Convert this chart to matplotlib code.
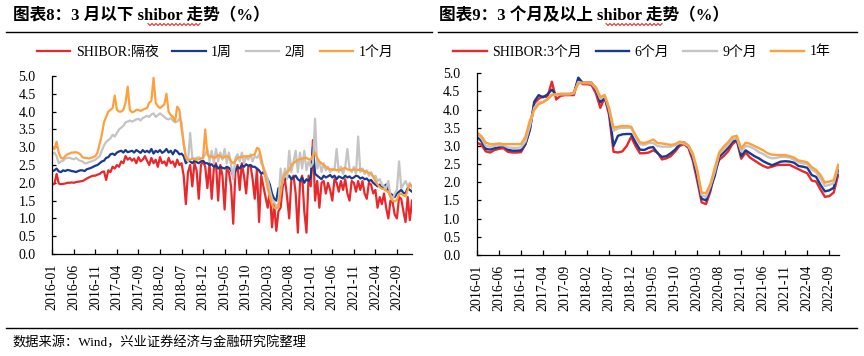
import matplotlib
matplotlib.use('Agg')
import matplotlib.pyplot as plt
import numpy as np
from matplotlib.lines import Line2D

plt.rcParams['font.family'] = ['Liberation Serif', 'Noto Sans CJK SC']
plt.rcParams['axes.unicode_minus'] = False

# ---------------- data ----------------
tick_labels = ['2016-01', '2016-06', '2016-11', '2017-04', '2017-09', '2018-02',
               '2018-07', '2018-12', '2019-05', '2019-10', '2020-03', '2020-08',
               '2021-01', '2021-06', '2021-11', '2022-04', '2022-09']

# left panel: semi-monthly readings, 2016-01 .. 2022-12
shibor_on = [
    1.95, 1.97, 2.25, 1.98, 1.96, 1.97, 1.98, 2.00, 2.00, 2.01, 2.00, 2.02, 2.03, 2.04, 2.05, 2.08, 2.12, 2.15, 2.18, 2.20, 2.20, 2.23, 2.25, 2.30,
    2.32, 2.08, 2.35, 2.30, 2.45, 2.40, 2.50, 2.45, 2.60, 2.55, 2.75, 2.65, 2.70, 2.62, 2.68, 2.55, 2.72, 2.60, 2.65, 2.75, 2.62, 2.50, 2.70, 2.55,
    2.65, 2.45, 2.72, 2.55, 2.60, 2.48, 2.70, 2.55, 2.60, 2.45, 2.65, 2.50, 2.55, 2.20, 1.40, 2.30, 2.50, 1.90, 2.55, 2.35, 1.55, 2.50, 2.60, 2.45,
    1.85, 2.55, 1.55, 2.40, 2.55, 1.50, 2.50, 2.20, 1.25, 2.40, 2.30, 1.90, 0.85, 2.30, 2.50, 1.80, 2.55, 2.20, 1.70, 2.45, 2.50, 2.10, 1.55, 2.40,
    0.90, 2.20, 1.90, 1.60, 1.30, 1.80, 0.75, 1.40, 0.65, 1.20, 1.30, 1.90, 2.10, 1.60, 1.00, 2.10, 2.20, 1.70, 0.60, 2.00, 2.20, 1.20, 0.60, 2.20,
    1.90, 3.20, 1.50, 2.05, 1.30, 2.00, 2.05, 1.70, 2.00, 1.80, 1.50, 2.10, 2.00, 1.75, 2.05, 1.80, 2.10, 1.70, 1.50, 2.05, 2.00, 1.75, 2.05, 1.80,
    2.05, 1.70, 1.55, 2.00, 1.95, 1.70, 1.80, 1.30, 1.60, 1.40, 1.70, 1.30, 1.00, 1.50, 1.45, 1.10, 1.00, 1.60, 1.55, 1.20, 0.90, 1.60, 0.95, 1.50,
]
shibor_1w = [
    2.32, 2.35, 2.40, 2.32, 2.30, 2.35, 2.33, 2.36, 2.35, 2.33, 2.32, 2.30, 2.33, 2.35, 2.35, 2.33, 2.38, 2.40, 2.42, 2.45, 2.48, 2.50, 2.55, 2.60,
    2.62, 2.70, 2.72, 2.80, 2.82, 2.78, 2.85, 2.88, 2.90, 2.85, 2.92, 2.86, 2.88, 2.90, 2.85, 2.92, 2.88, 2.84, 2.92, 2.86, 2.90, 2.85, 2.95, 2.82,
    2.90, 2.86, 2.92, 2.84, 2.88, 2.95, 2.85, 2.90, 2.80, 2.92, 2.88, 2.80, 2.82, 2.75, 2.55, 2.62, 2.60, 2.55, 2.62, 2.58, 2.55, 2.60, 2.62, 2.55,
    2.55, 2.50, 2.52, 2.45, 2.50, 2.40, 2.45, 2.42, 2.40, 2.45, 2.42, 2.35, 2.20, 2.35, 2.45, 2.40, 2.50, 2.45, 2.52, 2.48, 2.50, 2.45, 2.45, 2.40,
    2.35, 2.25, 2.30, 2.20, 2.10, 1.95, 1.70, 1.55, 1.50, 1.85, 1.75, 2.05, 2.10, 2.15, 2.20, 2.10, 2.15, 2.20, 2.10, 2.05, 2.15, 2.00, 2.10, 2.05,
    2.15, 3.00, 2.25, 2.20, 2.15, 2.10, 2.20, 2.15, 2.18, 2.22, 2.15, 2.20, 2.10, 2.18, 2.15, 2.12, 2.20, 2.15, 2.18, 2.12, 2.15, 2.20, 2.18, 2.12,
    2.15, 2.10, 2.12, 2.05, 2.08, 2.00, 1.95, 1.90, 1.95, 1.85, 1.90, 1.95, 1.75, 1.70, 1.65, 1.60, 1.70, 1.75, 1.80, 1.72, 1.70, 1.85, 1.80, 1.75,
]
shibor_2w = [
    2.80, 2.85, 2.75, 2.55, 2.60, 2.62, 2.68, 2.70, 2.70, 2.68, 2.66, 2.70, 2.65, 2.62, 2.60, 2.55, 2.55, 2.58, 2.60, 2.62, 2.65, 2.70, 2.75, 2.90,
    3.05, 3.15, 3.20, 3.25, 3.35, 3.30, 3.40, 3.50, 3.55, 3.60, 3.70, 3.72, 3.75, 3.72, 3.75, 3.78, 3.80, 3.75, 3.82, 3.85, 3.88, 3.85, 3.92, 3.95,
    3.85, 3.90, 3.95, 3.90, 3.85, 3.80, 3.78, 3.82, 3.75, 3.70, 3.72, 3.80, 3.70, 3.10, 2.75, 2.60, 3.40, 2.70, 2.68, 2.70, 2.72, 2.68, 2.70, 2.80,
    2.95, 2.60, 2.90, 2.55, 2.95, 2.60, 2.85, 2.65, 2.95, 2.55, 2.85, 2.50, 2.10, 2.70, 2.80, 2.60, 2.85, 2.55, 2.75, 2.65, 2.80, 2.60, 2.75, 2.70,
    2.80, 2.55, 2.45, 2.30, 2.10, 1.80, 1.55, 1.45, 1.35, 1.40, 2.40, 2.00, 2.40, 2.10, 2.90, 2.30, 2.60, 2.90, 2.30, 2.85, 2.40, 2.90, 2.35, 2.60,
    2.45, 2.55, 3.80, 2.40, 2.60, 2.30, 2.55, 2.35, 2.45, 2.30, 2.40, 2.35, 2.95, 2.30, 2.45, 2.25, 2.45, 2.95, 2.40, 2.30, 2.45, 2.25, 3.30, 2.30,
    2.40, 2.25, 2.35, 2.20, 2.30, 2.15, 2.20, 2.05, 2.10, 1.95, 1.90, 1.85, 2.05, 1.65, 1.55, 1.70, 1.80, 2.60, 1.85, 1.95, 2.05, 1.90, 2.00, 1.85,
]
shibor_1m = [
    3.00, 2.95, 3.15, 2.85, 2.70, 2.68, 2.75, 2.80, 2.82, 2.85, 2.85, 2.86, 2.84, 2.80, 2.72, 2.70, 2.70, 2.68, 2.70, 2.72, 2.75, 2.85, 3.10, 3.35,
    3.70, 3.85, 4.00, 4.05, 4.10, 4.45, 4.05, 4.00, 4.00, 4.05, 4.25, 4.70, 4.05, 3.98, 4.00, 4.05, 4.05, 4.02, 4.05, 4.08, 4.10, 4.25, 4.30, 4.95,
    4.25, 4.15, 4.10, 4.15, 4.20, 4.50, 4.00, 3.90, 3.85, 3.72, 4.14, 4.05, 3.53, 3.10, 2.70, 2.65, 2.65, 2.68, 2.66, 2.65, 2.66, 2.68, 2.70, 3.50,
    2.80, 2.72, 2.75, 2.70, 2.72, 2.78, 2.75, 2.70, 2.72, 2.75, 2.72, 2.60, 2.55, 2.62, 2.70, 2.72, 2.72, 2.75, 2.73, 2.75, 2.75, 2.78, 2.80, 2.98,
    2.95, 2.70, 2.40, 2.15, 1.85, 1.60, 1.40, 1.30, 1.28, 1.32, 1.70, 2.10, 2.25, 2.30, 2.35, 2.50, 2.55, 2.60, 2.64, 2.66, 2.68, 2.70, 2.70, 2.66,
    2.65, 2.78, 2.85, 2.70, 2.60, 2.55, 2.50, 2.45, 2.40, 2.38, 2.36, 2.38, 2.35, 2.37, 2.36, 2.40, 2.42, 2.38, 2.36, 2.35, 2.38, 2.36, 2.36, 2.38,
    2.35, 2.33, 2.30, 2.28, 2.25, 2.18, 2.05, 1.95, 1.88, 1.84, 1.82, 1.78, 1.75, 1.60, 1.50, 1.48, 1.52, 1.68, 1.70, 1.65, 1.62, 1.80, 1.95, 1.92,
]

# right panel: monthly readings, 2016-01 .. 2022-11
shibor_3m = [
    3.09, 3.03, 2.85, 2.82, 2.89, 2.92, 2.94, 2.84, 2.82, 2.82, 2.83, 3.05,
    3.45, 4.17, 4.30, 4.36, 4.35, 4.77, 4.28, 4.38, 4.40, 4.40, 4.40, 4.84,
    4.70, 4.70, 4.68, 4.45, 4.05, 4.33, 3.85, 2.84, 2.82, 2.85, 3.00, 3.25,
    3.00, 2.80, 2.80, 2.82, 2.88, 2.82, 2.63, 2.66, 2.72, 2.85, 3.00, 3.05,
    2.95, 2.60, 2.05, 1.45, 1.40, 1.75, 2.30, 2.62, 2.72, 2.85, 3.05, 3.15,
    2.65, 2.82, 2.68, 2.60, 2.52, 2.45, 2.40, 2.43, 2.47, 2.48, 2.48, 2.48,
    2.42, 2.36, 2.30, 2.25, 2.05, 2.02, 1.80, 1.60, 1.62, 1.72, 2.20,
]
shibor_6m = [
    3.26, 3.13, 2.92, 2.90, 2.94, 2.97, 3.00, 2.90, 2.87, 2.87, 2.88, 3.05,
    3.44, 4.22, 4.40, 4.34, 4.42, 4.55, 4.40, 4.43, 4.43, 4.43, 4.45, 4.88,
    4.74, 4.74, 4.74, 4.55, 4.20, 4.33, 3.95, 3.00, 3.28, 3.32, 3.33, 3.33,
    3.10, 2.90, 2.89, 2.95, 2.97, 2.80, 2.70, 2.72, 2.80, 2.90, 3.05, 3.10,
    3.00, 2.68, 2.18, 1.55, 1.50, 1.82, 2.18, 2.70, 2.82, 2.95, 3.12, 3.17,
    2.72, 2.88, 2.80, 2.72, 2.66, 2.58, 2.52, 2.47, 2.52, 2.57, 2.58, 2.57,
    2.54, 2.45, 2.43, 2.40, 2.20, 2.15, 1.93, 1.75, 1.78, 1.85, 2.35,
]
shibor_9m = [
    3.32, 3.22, 3.00, 2.98, 3.00, 3.02, 3.02, 2.96, 2.95, 2.95, 2.96, 3.12,
    3.55, 4.05, 4.20, 4.22, 4.30, 4.42, 4.40, 4.42, 4.42, 4.42, 4.45, 4.76,
    4.73, 4.73, 4.72, 4.58, 4.30, 4.38, 4.00, 3.42, 3.48, 3.50, 3.50, 3.50,
    3.25, 3.05, 3.03, 3.08, 3.08, 3.00, 2.98, 2.98, 2.98, 3.02, 3.08, 3.07,
    3.00, 2.75, 2.30, 1.65, 1.60, 1.90, 2.30, 2.78, 2.90, 3.03, 3.18, 3.22,
    2.85, 3.00, 2.98, 2.92, 2.83, 2.78, 2.70, 2.66, 2.67, 2.70, 2.70, 2.68,
    2.62, 2.55, 2.52, 2.50, 2.35, 2.28, 2.10, 1.90, 1.93, 1.98, 2.42,
]
shibor_1y = [
    3.37, 3.27, 3.09, 3.05, 3.05, 3.07, 3.05, 3.05, 3.05, 3.05, 3.05, 3.25,
    3.70, 3.99, 4.15, 4.20, 4.28, 4.40, 4.43, 4.43, 4.43, 4.43, 4.48, 4.72,
    4.74, 4.74, 4.73, 4.62, 4.35, 4.40, 4.05, 3.50, 3.53, 3.55, 3.55, 3.53,
    3.30, 3.10, 3.08, 3.12, 3.18, 3.08, 3.07, 3.05, 3.03, 3.05, 3.12, 3.10,
    3.02, 2.80, 2.35, 1.72, 1.70, 1.95, 2.40, 2.82, 2.98, 3.10, 3.25, 3.28,
    2.93, 3.09, 3.06, 3.00, 2.94, 2.88, 2.80, 2.76, 2.75, 2.75, 2.75, 2.72,
    2.68, 2.60, 2.58, 2.55, 2.42, 2.34, 2.20, 1.99, 2.02, 2.06, 2.48,
]

left_names = ['SHIBOR:隔夜', '1周', '2周', '1个月']
right_names = ['SHIBOR:3个月', '6个月', '9个月', '1年']
colors = ['#E8282B', '#1A3A8F', '#C4C4C4', '#FFA03C']

# ---------------- figure ----------------
W, H = 864, 356
fig = plt.figure(figsize=(W / 100, H / 100), dpi=100)


def fx(px):
    return px / W


def fy(py):
    return 1 - py / H


axL = fig.add_axes([fx(52.3), fy(254), (412 - 52.3) / W, (254 - 76) / H])
axR = fig.add_axes([fx(477), fy(255), (839 - 477) / W, (255 - 73.3) / H])

xl = np.arange(len(shibor_on)) / 2.0
hl = []
for s, c, n in zip([shibor_on, shibor_1w, shibor_2w, shibor_1m], colors, left_names):
    ln, = axL.plot(xl, s, color=c, lw=1.6, label=n, solid_joinstyle='round')
    hl.append(ln)

xr = np.arange(len(shibor_3m))
hr = []
for s, c, n in zip([shibor_3m, shibor_6m, shibor_9m, shibor_1y], colors, right_names):
    ln, = axR.plot(xr, s, color=c, lw=1.7, label=n, solid_joinstyle='round')
    hr.append(ln)

axL.set_xlim(0, xl[-1])
axR.set_xlim(0, xr[-1] + 0.2)

for ax in (axL, axR):
    ax.set_ylim(0, 5)
    ax.set_yticks(np.arange(0, 5.01, 0.5))
    ax.set_yticklabels([f'{v:.1f}' for v in np.arange(0, 5.01, 0.5)])
    ax.set_xticks(list(range(0, 81, 5)))
    ax.set_xticklabels(tick_labels, rotation=90)
    for sp in ('top', 'right'):
        ax.spines[sp].set_visible(False)
    for sp in ('left', 'bottom'):
        ax.spines[sp].set_linewidth(0.9)
        ax.spines[sp].set_color('black')
    ax.tick_params(axis='x', direction='in', length=3.5, width=0.9, pad=7, labelsize=10)
    ax.tick_params(axis='y', direction='in', length=3, width=0.9, pad=12, labelsize=10)

# legends
fig.legend(handles=hl, loc='center', bbox_to_anchor=(fx(215), fy(52)), ncol=4,
           frameon=False, fontsize=10, handlelength=2.4, handletextpad=0.4,
           columnspacing=1.0)
fig.legend(handles=hr, loc='center', bbox_to_anchor=(fx(642), fy(52)), ncol=4,
           frameon=False, fontsize=10, handlelength=2.4, handletextpad=0.4,
           columnspacing=1.0)

# titles
fig.text(fx(13), fy(16), '图表8：3 月以下 shibor 走势（%）', fontsize=12,
         fontweight='bold', va='center', ha='left')
fig.text(fx(439), fy(16), '图表9：3 个月及以上 shibor 走势（%）', fontsize=12,
         fontweight='bold', va='center', ha='left')


# spell-check style wavy underline below "shibor"
def wavy(x0, x1, y):
    xs = np.arange(x0, x1 + 0.1, 2.0)
    ys = [y - 1.0 if i % 2 == 0 else y + 1.0 for i in range(len(xs))]
    fig.add_artist(Line2D([fx(v) for v in xs], [fy(v) for v in ys],
                          color='#E03030', lw=0.8))


wavy(148, 200, 24.5)
wavy(606, 662, 24.5)

# rules
fig.add_artist(Line2D([fx(6), fx(432)], [fy(31.5), fy(31.5)], color='black', lw=1.0))
fig.add_artist(Line2D([fx(438), fx(857)], [fy(31.5), fy(31.5)], color='black', lw=1.0))
fig.add_artist(Line2D([fx(6), fx(857)], [fy(328), fy(328)], color='black', lw=1.0))

# footer
fig.text(fx(12.5), fy(343), '数据来源：Wind，兴业证券经济与金融研究院整理', fontsize=9.5,
         va='center', ha='left')

fig.savefig('out.png', dpi=100)
